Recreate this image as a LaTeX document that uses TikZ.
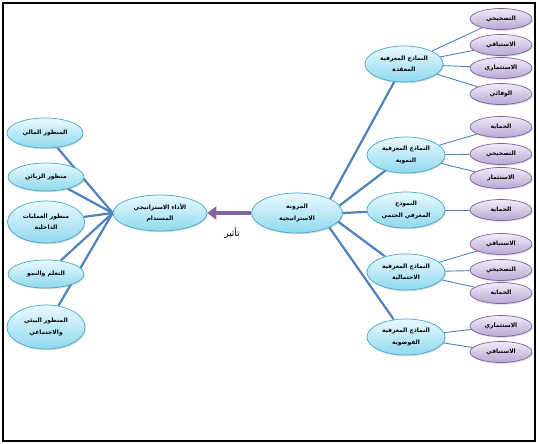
\documentclass[tikz,border=0pt]{standalone}
\usepackage{fontspec}
\TeXXeTstate=1
\newfontfamily\arfont[Script=Arabic]{DejaVu Sans}
\usetikzlibrary{shapes.geometric,arrows.meta,shadows,backgrounds}
\newcommand\arl[1]{{\arfont\bfseries\beginR #1\endR}}
\definecolor{cyfill}{HTML}{8FD9EF}
\definecolor{cytop}{HTML}{EAF9FE}
\definecolor{cyline}{HTML}{46AAC5}
\definecolor{pufill}{HTML}{B8A7D4}
\definecolor{putop}{HTML}{F1ECF8}
\definecolor{puline}{HTML}{7F63A1}
\definecolor{conn}{HTML}{4F81BD}
\definecolor{arrowc}{HTML}{8064A2}
\tikzset{
  cy/.style={ellipse, draw=cyline, line width=0.7pt, top color=cytop, bottom color=cyfill,
    inner sep=0pt, align=center, font=\fontsize{6}{11.5}\selectfont,
    drop shadow={shadow xshift=0.8pt, shadow yshift=-1.2pt, opacity=0.3}},
  pu/.style={ellipse, draw=puline, line width=0.7pt, top color=putop, bottom color=pufill,
    inner sep=0pt, align=center, minimum width=62pt, minimum height=21pt,
    font=\fontsize{6}{10}\selectfont,
    drop shadow={shadow xshift=0.8pt, shadow yshift=-1.2pt, opacity=0.3}},
  hd/.style={cy, minimum width=78pt, minimum height=36pt},
  thick conn/.style={draw=conn, line width=2.2pt},
  thin conn/.style={draw=conn, line width=0.9pt},
}
\begin{document}
\begin{tikzpicture}[x={(1pt,0pt)}, y={(0pt,-1pt)}]
\useasboundingbox (0,0) rectangle (538,444);
\draw[black, line width=2.8pt] (3,3) rectangle (535,441);

% center nodes
\node[cy, minimum width=91pt, minimum height=40pt] (C) at (297,213) {\arl{المرونة}\\\arl{الاستراتيجية}};
\node[cy, minimum width=94pt, minimum height=36pt] (L) at (160,213) {\arl{الأداء الاستراتيجي}\\\arl{المستدام}};

% left nodes
\node[cy, minimum width=76pt, minimum height=30pt] (l1) at (45,133) {\arl{المنظور المالي}};
\node[cy, minimum width=76pt, minimum height=28pt] (l2) at (46,177) {\arl{منظور الزبائن}};
\node[cy, minimum width=77pt, minimum height=42pt] (l3) at (46,222) {\arl{منظور العمليات}\\\arl{الداخلية}};
\node[cy, minimum width=76pt, minimum height=28pt] (l4) at (46,274) {\arl{التعلم والنمو}};
\node[cy, minimum width=78pt, minimum height=44pt] (l5) at (46,327) {\arl{المنظور البيئي}\\\arl{والاجتماعي}};

% headers
\node[hd] (h1) at (404,64) {\arl{النماذج المعرفية}\\\arl{المعقدة}};
\node[hd] (h2) at (406,155) {\arl{النماذج المعرفية}\\\arl{النموية}};
\node[hd] (h3) at (406,210) {\arl{النموذج}\\\arl{المعرفي الحتمي}};
\node[hd] (h4) at (406,272) {\arl{النماذج المعرفية}\\\arl{الاحتمالية}};
\node[hd] (h5) at (406,337) {\arl{النماذج المعرفية}\\\arl{الفوضوية}};

% purple leaves
\node[pu] (p11) at (501,19) {\arl{التصحيحي}};
\node[pu] (p12) at (501,45) {\arl{الاستباقي}};
\node[pu] (p13) at (501,68) {\arl{الاستثماري}};
\node[pu] (p14) at (501,94) {\arl{الوقائي}};
\node[pu] (p21) at (501,127) {\arl{الحماية}};
\node[pu] (p22) at (501,154) {\arl{التصحيحي}};
\node[pu] (p23) at (501,178) {\arl{الاستثمار}};
\node[pu] (p31) at (501,210) {\arl{الحماية}};
\node[pu] (p41) at (501,244) {\arl{الاستباقي}};
\node[pu] (p42) at (501,270) {\arl{التصحيحي}};
\node[pu] (p43) at (501,293) {\arl{الحماية}};
\node[pu] (p51) at (501,326) {\arl{الاستثماري}};
\node[pu] (p52) at (501,352) {\arl{الاستباقي}};

% connectors behind nodes
\begin{pgfonlayer}{background}
\draw[thick conn] (C.23) -- (h1);
\draw[thick conn] (C.10) -- (h2);
\draw[thick conn] (C.0) -- (h3);
\draw[thick conn] (C.-12) -- (h4);
\draw[thick conn] (C.-24) -- (h5);
\foreach \l in {l1,l2,l3,l4,l5} \draw[thick conn] (L.west) -- (\l);
\foreach \p in {p11,p12,p13,p14} \draw[thin conn] (h1) -- (\p);
\foreach \p in {p21,p22,p23} \draw[thin conn] (h2) -- (\p);
\draw[thin conn] (h3) -- (p31);
\foreach \p in {p41,p42,p43} \draw[thin conn] (h4) -- (\p);
\foreach \p in {p51,p52} \draw[thin conn] (h5) -- (\p);
\end{pgfonlayer}

% influence arrow
\draw[arrowc, line width=4.5pt, -{Triangle[length=9pt,width=13pt]}] (C.west) -- (L.east);
\node[font=\fontsize{9}{10}\selectfont] (lab) at (232,233) {{\arfont\beginR تأثير\endR}};
\end{tikzpicture}
\end{document}
